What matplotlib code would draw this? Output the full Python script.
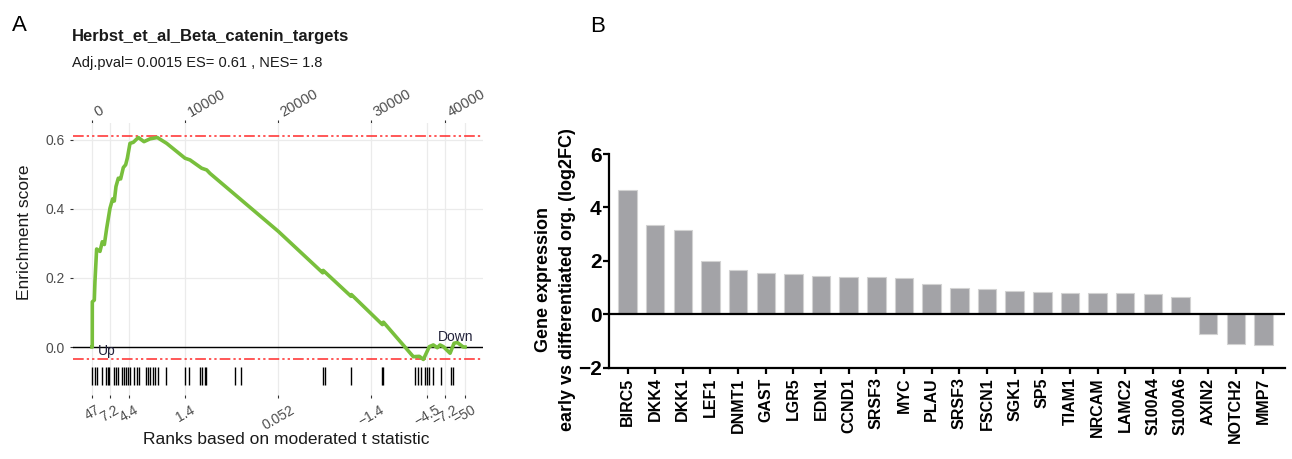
import numpy as np
import matplotlib
matplotlib.use('Agg')
import matplotlib.pyplot as plt

plt.rcParams['font.family'] = ['Liberation Sans', 'DejaVu Sans']

# ---- panel A: running enrichment score ----
es_rank = [0, 30, 36, 250, 320, 430, 500, 860, 1110, 1330, 1580, 1935, 2220, 2400,
           2580, 2830, 3080, 3370, 3620, 3800, 4085, 4440, 4980, 5590, 6235, 7020,
           8030, 10000, 10535, 11790, 12330, 12685, 20030, 24800, 24850, 27840, 27880,
           31210, 31330, 34540, 35190, 35620, 36260, 36690, 37120, 37410, 37770,
           38490, 38920, 39270, 39915, 40100]
es_value = [0.0, 0.0, 0.131, 0.136, 0.19, 0.247, 0.284, 0.277, 0.305, 0.297, 0.344,
            0.402, 0.429, 0.423, 0.465, 0.489, 0.487, 0.52, 0.528, 0.547, 0.59, 0.593,
            0.607, 0.595, 0.603, 0.607, 0.59, 0.547, 0.542, 0.518, 0.513, 0.503, 0.335,
            0.215, 0.222, 0.147, 0.152, 0.065, 0.072, -0.028, -0.027, -0.036, 0.001,
            0.006, -0.002, 0.006, 0.001, -0.018, 0.011, 0.013, 0.0, 0.0]

# positions of gene-set members in the ranked list
hit_ranks = [30, 290, 540, 1040, 1510, 1690, 1860, 2340, 2550, 2830, 3190, 3480, 3655,
             3870, 4085, 4550, 4800, 5020, 5800, 6020, 6235, 6520, 6800, 7130, 7920,
             9990, 10400, 11610, 11790, 12110, 12260, 15380, 16050, 24800, 25080, 27840,
             31210, 31320, 34760, 35050, 35330, 35760, 35980, 36260, 36690, 37480,
             38560, 38840]

es_max = 0.61
es_min = -0.035

top_tick_pos = [0, 10000, 20000, 30000, 37960]
top_tick_labels = ['0', '10000', '20000', '30000', '40000']
bottom_tick_pos = [0, 1940, 3980, 9990, 20030, 29960, 36020, 37960, 40100]
bottom_tick_labels = ['47', '7.2', '4.4', '1.4', '0.052', '\u22121.4', '\u22124.5',
                      '\u22127.2', '\u221250']

# ---- panel B: log2FC per gene ----
genes = ['BIRC5', 'DKK4', 'DKK1', 'LEF1', 'DNMT1', 'GAST', 'LGR5', 'EDN1', 'CCND1',
         'SRSF3', 'MYC', 'PLAU', 'SRSF3', 'FSCN1', 'SGK1', 'SP5', 'TIAM1', 'NRCAM',
         'LAMC2', 'S100A4', 'S100A6', 'AXIN2', 'NOTCH2', 'MMP7']
log2fc = [4.65, 3.36, 3.15, 1.99, 1.65, 1.55, 1.51, 1.45, 1.41, 1.41, 1.34, 1.125,
          1.0, 0.95, 0.89, 0.83, 0.81, 0.80, 0.79, 0.76, 0.66, -0.75, -1.1, -1.15]

W, H = 1292, 459
fig = plt.figure(figsize=(W / 100, H / 100), dpi=100)


def fx(px):
    return px / W


def fy(py):
    return 1 - py / H


# ================= panel A =================
ax = fig.add_axes([fx(73), fy(395), fx(483 - 73), (395 - 123) / H])
ax.set_xlim(-2040, 42030)
ax.set_ylim(-0.139, 0.649)
for s in ax.spines.values():
    s.set_visible(False)

ax.set_yticks([0, 0.2, 0.4, 0.6], labels=['0.0', '0.2', '0.4', '0.6'])
ax.set_xticks(bottom_tick_pos, labels=bottom_tick_labels)
ax.grid(color='#ebebeb', lw=0.9)
ax.set_axisbelow(True)
ax.tick_params(axis='both', length=2.5, width=0.8, color='#333333',
               labelcolor='#4d4d4d', labelsize=10)
ax.tick_params(axis='x', pad=3)
for lab in ax.get_xticklabels():
    lab.set_rotation(30)
    lab.set_ha('center')

top = ax.secondary_xaxis('top')
top.set_xticks(top_tick_pos, labels=top_tick_labels)
for s in top.spines.values():
    s.set_visible(False)
top.tick_params(length=2.5, width=0.8, color='#333333', labelcolor='#4d4d4d',
                labelsize=10.5, pad=0)
for lab in top.get_xticklabels():
    lab.set_rotation(30)
    lab.set_ha('left')

ax.axhline(0, color='black', lw=1.0, zorder=2)
for yv in (es_max, es_min):
    ax.axhline(yv, color='#ff2a2a', lw=1.1, dashes=(7, 2, 1.5, 2, 1.5, 2), zorder=2)

ax.plot(es_rank, es_value, color='#78bf3c', lw=2.6, solid_joinstyle='round', zorder=3)
ax.vlines(hit_ranks, -0.11, -0.058, color='black', lw=1.0, zorder=3)

ax.text(600, -0.012, 'Up', fontsize=10, color='#22223a', va='center', ha='left')
ax.text(39100, 0.028, 'Down', fontsize=10, color='#22223a', va='center', ha='center')

fig.text(fx(25), fy(232), 'Enrichment score', rotation=90, fontsize=12.5,
         color='#1a1a1a', ha='center', va='center')
fig.text(fx(286), fy(440), 'Ranks based on moderated t statistic', fontsize=12.5,
         color='#1a1a1a', ha='center', va='center')
fig.text(fx(72), fy(41.5), 'Herbst_et_al_Beta_catenin_targets', fontsize=12,
         fontweight='bold', color='#1a1a1a', va='baseline')
fig.text(fx(72), fy(66.5), 'Adj.pval= 0.0015 ES= 0.61 , NES= 1.8', fontsize=10.5,
         color='#1a1a1a', va='baseline')
fig.text(fx(12), fy(31), 'A', fontsize=16, va='baseline')
fig.text(fx(590), fy(32), 'B', fontsize=16, va='baseline')

# ================= panel B =================
ax2 = fig.add_axes([fx(609.3), fy(367.7), fx(1285 - 609.3), (367.7 - 154) / H])
xpos = np.arange(len(genes))
ax2.bar(xpos, log2fc, width=0.67, color='#a3a3a7', edgecolor='#d2d2d2', lw=0.8,
        zorder=2)
ax2.axhline(0, color='black', lw=1.6, zorder=3)
ax2.set_xlim(-0.66, 23.78)
ax2.set_ylim(-2, 6)
ax2.spines['top'].set_visible(False)
ax2.spines['right'].set_visible(False)
ax2.spines['left'].set_linewidth(1.6)
ax2.spines['bottom'].set_linewidth(1.6)
ax2.set_yticks([-2, 0, 2, 4, 6])
ax2.set_xticks(xpos, labels=genes)
ax2.tick_params(axis='y', length=4, width=1.6, pad=1.5, labelsize=15)
ax2.tick_params(axis='x', length=4, width=1.6, pad=3, labelsize=11.5, rotation=90)
for lab in ax2.get_xticklabels() + ax2.get_yticklabels():
    lab.set_fontweight('bold')

fig.text(fx(544), fy(280), 'Gene expression', rotation=90, fontsize=13,
         fontweight='bold', ha='center', va='center')
fig.text(fx(568), fy(280), 'early vs differentiated org. (log2FC)', rotation=90,
         fontsize=13, fontweight='bold', ha='center', va='center')

fig.savefig('out.png', dpi=100)
